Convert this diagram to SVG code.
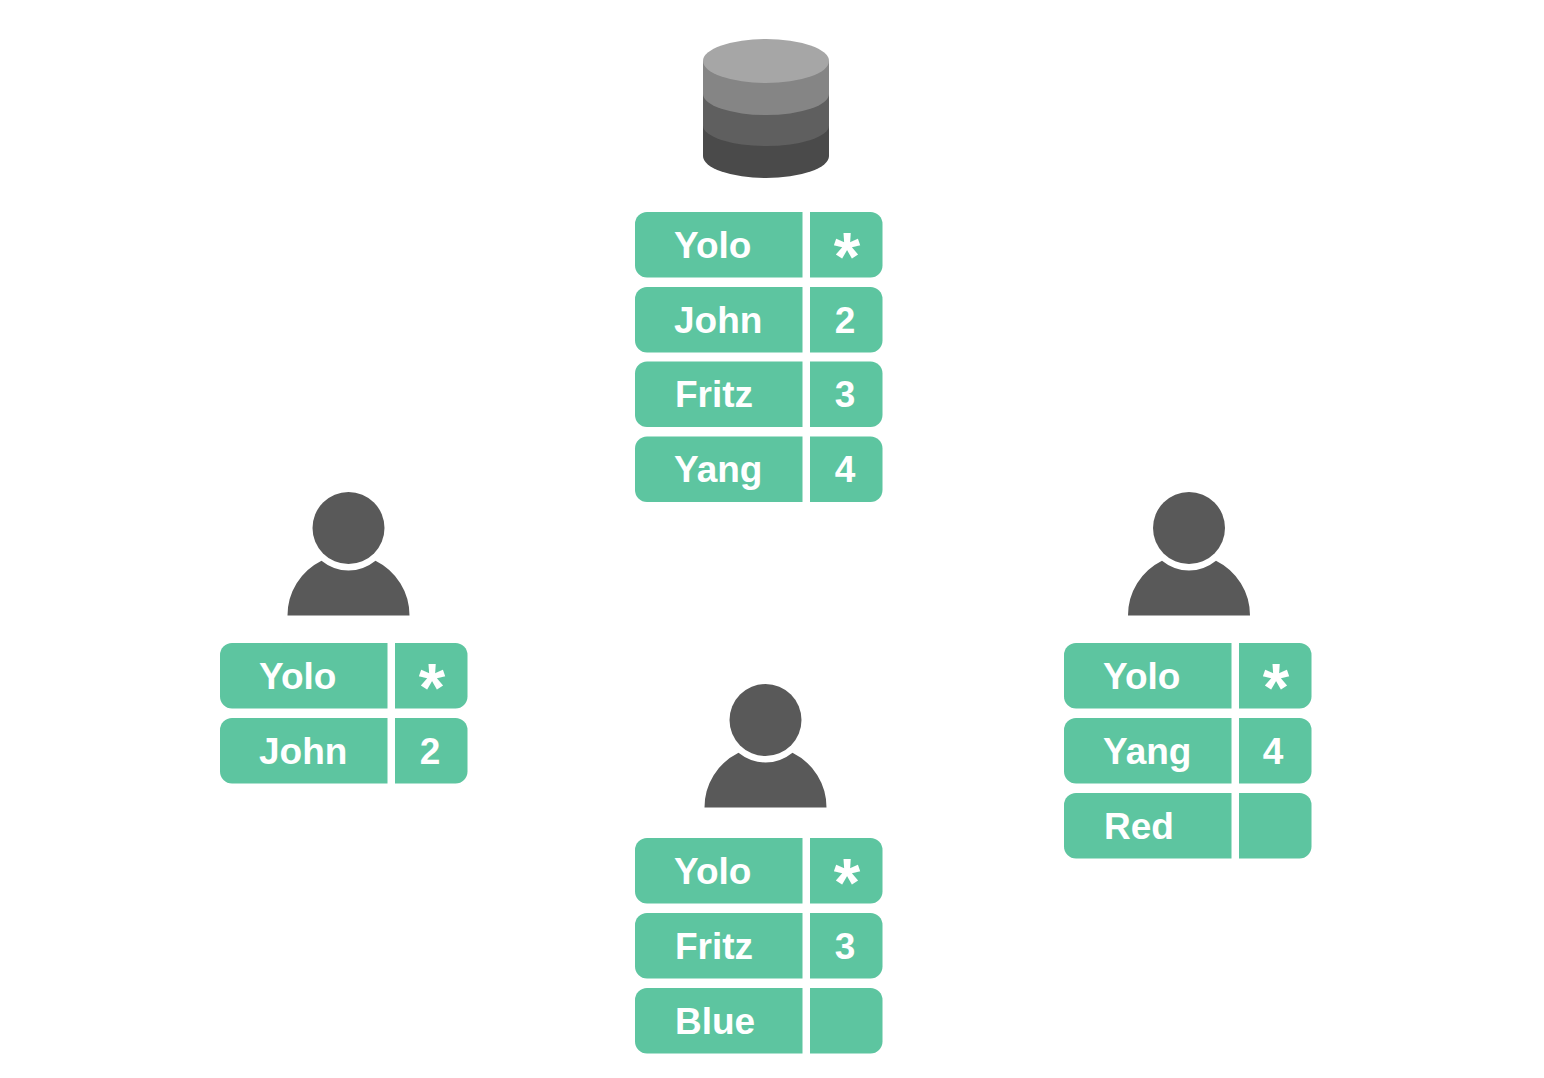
<svg xmlns="http://www.w3.org/2000/svg" width="1544" height="1078" viewBox="0 0 1544 1078">
<style>
.c{fill:#5dc5a0}
.p{fill:#595959}
text{font-family:"Liberation Sans",Arial,sans-serif;font-weight:700;font-size:37px;fill:#fff}
.v{text-anchor:middle}
.s{font-size:68px;text-anchor:middle}
</style>
<defs>
<path id="l" d="M12 0H167.500V65.500H12A12 12 0 0 1 0 53.500V12A12 12 0 0 1 12 0Z"/>
<path id="r" d="M175 0H235.500A12 12 0 0 1 247.500 12V53.500A12 12 0 0 1 235.500 65.500H175Z"/>
<g id="person"><circle cx="0" cy="0" r="36" class="p"/><path class="p" d="M-61 87.500A61 61 0 0 1-27 32.700A42.400 42.400 0 0 0 27 32.700A61 61 0 0 1 61 87.500Z"/></g>
</defs>
<rect width="1544" height="1078" fill="#fff"/>
<g id="database">
<path fill="#4a4a4a" d="M703 126H829V156A63 22 0 0 1 703 156Z"/>
<path fill="#5f5f5f" d="M703 94H829V125.500A63 20.500 0 0 1 703 125.500Z"/>
<path fill="#858585" d="M703 61H829V94A63 21 0 0 1 703 94Z"/>
<ellipse cx="766" cy="61" rx="63" ry="22" fill="#a6a6a6"/>
</g>
<g id="server-table" class="c">
<g transform="translate(635 212)"><use href="#l"/><use href="#r"/><text x="39" y="45.500">Yolo</text><text class="s" x="212" y="68">*</text></g>
<g transform="translate(635 287)"><use href="#l"/><use href="#r"/><text x="39" y="45.500">John</text><text class="v" x="210" y="45.500">2</text></g>
<g transform="translate(635 361.500)"><use href="#l"/><use href="#r"/><text x="40" y="45.500">Fritz</text><text class="v" x="210" y="45.500">3</text></g>
<g transform="translate(635 436.500)"><use href="#l"/><use href="#r"/><text x="39" y="45.500">Yang</text><text class="v" x="210" y="45.500">4</text></g>
</g>
<g id="client-left">
<use href="#person" x="348.500" y="528"/>
<g class="c">
<g transform="translate(220 643)"><use href="#l"/><use href="#r"/><text x="39" y="45.500">Yolo</text><text class="s" x="212" y="68">*</text></g>
<g transform="translate(220 718)"><use href="#l"/><use href="#r"/><text x="39" y="45.500">John</text><text class="v" x="210" y="45.500">2</text></g>
</g>
</g>
<g id="client-middle">
<use href="#person" x="765.500" y="720"/>
<g class="c">
<g transform="translate(635 838)"><use href="#l"/><use href="#r"/><text x="39" y="45.500">Yolo</text><text class="s" x="212" y="68">*</text></g>
<g transform="translate(635 913)"><use href="#l"/><use href="#r"/><text x="40" y="45.500">Fritz</text><text class="v" x="210" y="45.500">3</text></g>
<g transform="translate(635 988)"><use href="#l"/><use href="#r"/><text x="40" y="45.500">Blue</text></g>
</g>
</g>
<g id="client-right">
<use href="#person" x="1189" y="528"/>
<g class="c">
<g transform="translate(1064 643)"><use href="#l"/><use href="#r"/><text x="39" y="45.500">Yolo</text><text class="s" x="212" y="68">*</text></g>
<g transform="translate(1064 718)"><use href="#l"/><use href="#r"/><text x="39" y="45.500">Yang</text><text class="v" x="209" y="45.500">4</text></g>
<g transform="translate(1064 793)"><use href="#l"/><use href="#r"/><text x="40" y="45.500">Red</text></g>
</g>
</g>
<g id="connectors"/>
</svg>
